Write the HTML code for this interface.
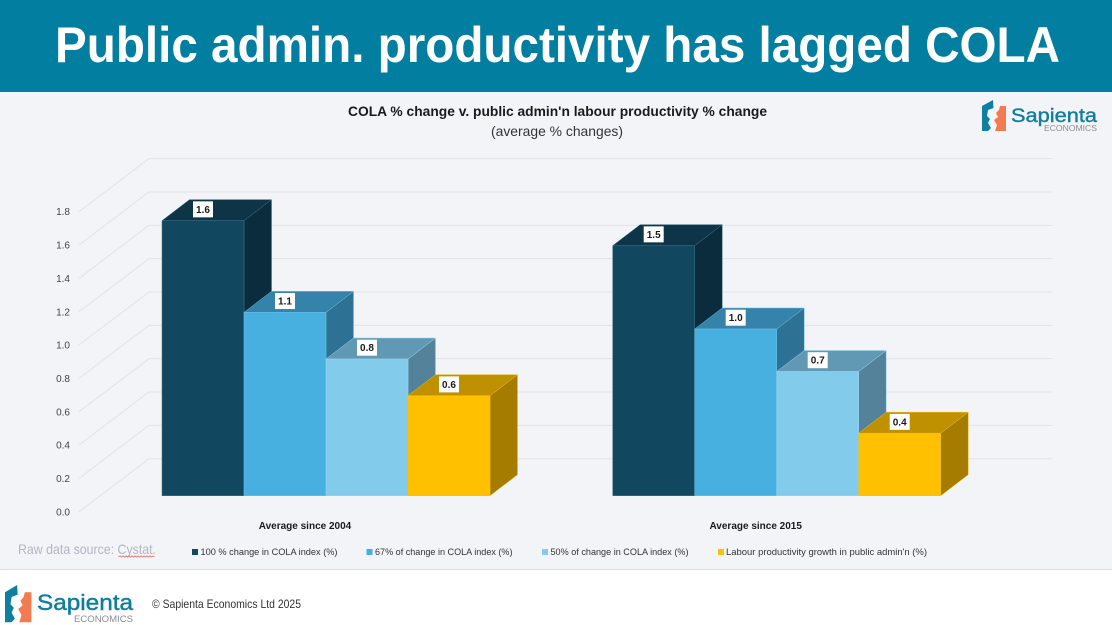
<!DOCTYPE html>
<html lang="en">
<head>
<meta charset="utf-8">
<title>Public admin. productivity has lagged COLA</title>
<style>
html,body{margin:0;padding:0;background:#f3f4f7;width:1112px;height:625px;overflow:hidden}
svg{display:block;font-family:"Liberation Sans",sans-serif}
</style>
</head>
<body>
<svg id="slide" xmlns="http://www.w3.org/2000/svg" width="1112" height="625" viewBox="0 0 1112 625">
  <rect x="0" y="0" width="1112" height="625" fill="#f3f4f7"/>
  <rect x="0" y="0" width="1112" height="92" fill="#027ea1"/>
  <text x="55" y="62" font-size="50" font-weight="700" fill="#ffffff" textLength="1005" lengthAdjust="spacingAndGlyphs">Public admin. productivity has lagged COLA</text>

  <text x="348" y="116" font-size="14" font-weight="700" fill="#1a1a1a" textLength="419" lengthAdjust="spacingAndGlyphs">COLA % change v. public admin'n labour productivity % change</text>
  <text x="491" y="136" font-size="14" fill="#333333" textLength="132" lengthAdjust="spacingAndGlyphs">(average % changes)</text>

  <g id="plot"></g>

  <g font-size="9.5" fill="#333333">
    <g>
      <rect x="192" y="549" width="6" height="6" fill="#12485f"/>
      <text x="200.5" y="555" textLength="137" lengthAdjust="spacingAndGlyphs">100 % change in  COLA index (%)</text>
    </g>
    <g>
      <rect x="366.5" y="549" width="6" height="6" fill="#47b0e0"/>
      <text x="375" y="555" textLength="137.5" lengthAdjust="spacingAndGlyphs">67% of change in COLA index (%)</text>
    </g>
    <g>
      <rect x="542" y="549" width="6" height="6" fill="#83cbeb"/>
      <text x="550.5" y="555" textLength="138" lengthAdjust="spacingAndGlyphs">50% of change in COLA index (%)</text>
    </g>
    <g>
      <rect x="718" y="549" width="6" height="6" fill="#ffc000"/>
      <text x="726" y="555" textLength="201" lengthAdjust="spacingAndGlyphs">Labour productivity growth in public admin'n (%)</text>
    </g>
  </g>

  <text x="18" y="554" font-size="14" fill="#b4b5c6" textLength="138" lengthAdjust="spacingAndGlyphs">Raw data source: Cystat.</text>
  <path d="M118.5 557l1.5-1.2 1.5 1.2 1.5-1.2 1.5 1.2 1.5-1.2 1.5 1.2 1.5-1.2 1.5 1.2 1.5-1.2 1.5 1.2 1.5-1.2 1.5 1.2 1.5-1.2 1.5 1.2 1.5-1.2 1.5 1.2 1.5-1.2 1.5 1.2 1.5-1.2 1.5 1.2 1.5-1.2 1.5 1.2 1.5-1.2 1.5 1.2" fill="none" stroke="#e8605a" stroke-width="0.7"/>

  <g>
    <g transform="translate(982 100)">
      <path d="M0 6L11 0L11.5 8L6 10L5 16L8 19L6 23L9 28L6 31L0 31Z" fill="#0f7fa0"/>
      <path d="M13 31L24 31L24 6L18 6L17 10L14 13L16 17L12 20L15 25Z" fill="#f47a4f"/>
    </g>
    <text x="1011" y="122" font-size="19" fill="#0f7fa0" stroke="#0f7fa0" stroke-width="0.4" textLength="86" lengthAdjust="spacingAndGlyphs">Sapienta</text>
    <text x="1044" y="131" font-size="8" fill="#8a8c93" textLength="53" lengthAdjust="spacingAndGlyphs">ECONOMICS</text>
  </g>

  <g>
    <rect x="0" y="569" width="1112" height="56" fill="#ffffff"/>
    <rect x="0" y="569" width="1112" height="1" fill="#e0e0e0"/>
    <g transform="translate(5 585) scale(1.1 1.2)">
      <path d="M0 6L11 0L11.5 8L6 10L5 16L8 19L6 23L9 28L6 31L0 31Z" fill="#0f7fa0"/>
      <path d="M13 31L24 31L24 6L18 6L17 10L14 13L16 17L12 20L15 25Z" fill="#f47a4f"/>
    </g>
    <text x="37" y="610" font-size="22" fill="#0f7fa0" stroke="#0f7fa0" stroke-width="0.45" textLength="96" lengthAdjust="spacingAndGlyphs">Sapienta</text>
    <text x="74" y="622" font-size="9.5" fill="#8a8c93" textLength="59" lengthAdjust="spacingAndGlyphs">ECONOMICS</text>
    <text x="152" y="608" font-size="12" fill="#333333" textLength="149" lengthAdjust="spacingAndGlyphs">© Sapienta Economics Ltd 2025</text>
  </g>
</svg>

<script>
const categories = ["Average since 2004", "Average since 2015"];
const cola100 = [1.65, 1.5];
const cola67 = [1.1, 1.0];
const cola50 = [0.82, 0.745];
const labourProductivity = [0.6, 0.375];
const valueTicks = [0, 0.2, 0.4, 0.6, 0.8, 1.0, 1.2, 1.4, 1.6, 1.8];

const seriesList = [cola100, cola67, cola50, labourProductivity];
const seriesKeys = ["cola-100", "cola-67", "cola-50", "labour-productivity"];
const frontFill = ["#12485f", "#47b0e0", "#83cbeb", "#ffc000"];
const topFill = ["#0e3448", "#3583ab", "#6198b3", "#bf9000"];
const sideFill = ["#0a2c3c", "#2d7294", "#54829a", "#a67c00"];
const edgeStroke = ["#3f7188", "#6bbce3", "#98d4ee", "#eebc18"];

const NS = "http://www.w3.org/2000/svg";
const plot = document.getElementById("plot");
const pxPerUnit = 166.7;
const wallDx = 70, wallDy = -53;
const axisX = 79, axisZeroY = 511.7;
const gridRight = 1052;
const barBase = 495.7, barWidth = 82, barDepthX = 27.5, barDepthY = -21;
const firstGroupX = 162, groupStep = 450.7;

function axisY(v) { return axisZeroY - v * pxPerUnit; }
function barY(v) { return barBase - v * pxPerUnit; }
function groupX(i) { return firstGroupX + i * groupStep; }
function barX(i, s) { return groupX(i) + s * barWidth; }

function mk(tag, attrs, parent) {
  const el = document.createElementNS(NS, tag);
  for (const k in attrs) el.setAttribute(k, attrs[k]);
  (parent || plot).appendChild(el);
  return el;
}

valueTicks.forEach(function (t) {
  const y = axisY(t);
  const g = mk("g", {fill: "none", stroke: "#e3e3e7", "stroke-width": 1});
  
  
  mk("line", {x1: axisX, y1: y, x2: axisX + wallDx, y2: y + wallDy}, g);
  mk("line", {x1: axisX + wallDx, y1: y + wallDy, x2: gridRight, y2: y + wallDy}, g);
  const lab = mk("text", {x: 70, y: y + 3.6, "text-anchor": "end", "font-size": 10, fill: "#444444"});
  
  
  lab.textContent = t.toFixed(1);
});

categories.forEach(function (cat, i) {
  seriesList.forEach(function (values, s) {
    const v = values[i];
    const x = barX(i, s), top = barY(v);
    const bar = mk("g", {"stroke-width": 0.5, stroke: edgeStroke[s], "stroke-linejoin": "round"});
    
    
    const xr = x + barWidth;
    mk("polygon", {
      points: [xr, top, xr + barDepthX, top + barDepthY, xr + barDepthX, barBase + barDepthY, xr, barBase].join(" "),
      fill: sideFill[s]
    }, bar);
    mk("polygon", {
      points: [x, top, x + barDepthX, top + barDepthY, xr + barDepthX, top + barDepthY, xr, top].join(" "),
      fill: topFill[s]
    }, bar);
    mk("rect", {x: x, y: top, width: barWidth, height: barBase - top, fill: frontFill[s]}, bar);
  });
});

categories.forEach(function (cat, i) {
  seriesList.forEach(function (values, s) {
    const v = values[i];
    const cx = barX(i, s) + barWidth / 2, cy = barY(v) - 11.3;
    const box = mk("rect", {x: cx - 10, y: cy - 8, width: 20, height: 16, fill: "#ffffff"});
    
    
    const txt = mk("text", {x: cx, y: cy + 3.5, "text-anchor": "middle", "font-size": 10, "font-weight": 700, fill: "#1a1a1a"});
    
    
    txt.textContent = v.toFixed(1);
  });
  const catLabel = mk("text", {
    x: groupX(i) + 2 * barWidth - 21, y: 529, "text-anchor": "middle",
    "font-size": 10, "font-weight": 700, fill: "#1a1a1a"
  });
  
  
  catLabel.textContent = cat;
});
</script>
</body>
</html>
